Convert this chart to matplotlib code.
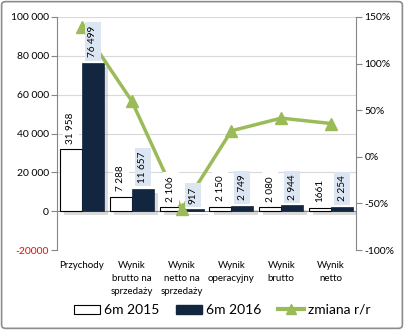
import numpy as np
import matplotlib.pyplot as plt
import matplotlib.patheffects as pe
from matplotlib.patches import FancyBboxPatch

plt.rcParams['font.family'] = ['Lato', 'DejaVu Sans']

# dane
kategorie = ['Przychody', 'Wynik\nbrutto na\nsprzedaży', 'Wynik\nnetto na\nsprzedaży',
             'Wynik\noperacyjny', 'Wynik\nbrutto', 'Wynik\nnetto']
v2015 = [31958, 7288, 2106, 2150, 2080, 1661]
v2016 = [76499, 11657, 917, 2749, 2944, 2254]
zmiana = [139.4, 59.9, -56.5, 27.9, 41.5, 35.7]
etyk2015 = ['31 958', '7 288', '2 106', '2 150', '2 080', '1661']
etyk2016 = ['76 499', '11 657', '917', '2 749', '2 944', '2 254']
yticks = [-20000, 0, 20000, 40000, 60000, 80000, 100000]
yticklabels = ['-20000', '0', '20 000', '40 000', '60 000', '80 000', '100 000']
pticks = [-100, -50, 0, 50, 100, 150]

navy = '#12263f'
green = '#9bbb59'
grid = '#d9d9d9'
axc = '#868686'

fig = plt.figure(figsize=(4.04, 3.30), dpi=100)
ax = fig.add_axes([57/404, 1-250/330, 299/404, 233/330])
ax2 = ax.twinx()

x = np.arange(len(kategorie))
w = 0.44
shadow = [pe.SimplePatchShadow(offset=(3, -3), shadow_rgbFace='#888888', alpha=0.3), pe.Normal()]
ax.bar(x - w/2, v2015, w, color='white', edgecolor='black', linewidth=0.8,
       path_effects=shadow, zorder=3)
ax.bar(x + w/2, v2016, w, color=navy, edgecolor=navy, linewidth=0.5,
       path_effects=shadow, zorder=3)

ax2.plot(x, zmiana, color=green, lw=2.5, marker='^', markersize=8, zorder=4, clip_on=False)

# etykiety nad linia
for xi, v, t in zip(x, v2015, etyk2015):
    ax2.annotate(t, (xi - w/2, v), xycoords=ax.transData, xytext=(0, 4), textcoords='offset points',
                 rotation=90, ha='center', va='bottom', fontsize=7.2, zorder=5,
                 bbox=dict(boxstyle='square,pad=0.35', fc='white', ec='none'))
for xi, v, t in zip(x, v2016, etyk2016):
    ax2.annotate(t, (xi + w/2, v), xycoords=ax.transData, xytext=(0, 4), textcoords='offset points',
                 rotation=90, ha='center', va='bottom', fontsize=7.2, zorder=5,
                 bbox=dict(boxstyle='square,pad=0.35', fc='#dce6f2', ec='none'))

ax.set_xlim(-0.5, len(kategorie) - 0.5)
ax.set_ylim(-20000, 100000)
ax.set_yticks(yticks)
ax.set_yticklabels(yticklabels, fontsize=7.5)
ax.get_yticklabels()[0].set_color('#ff0000')
for yv in yticks[2:]:
    ax.axhline(yv, color=grid, lw=0.8, zorder=0)
ax.axhline(0, color=axc, lw=0.8, zorder=2)
ax.set_xticks(x)
ax.set_xticklabels(kategorie, fontsize=7, linespacing=1.55, va='top')
ax.tick_params(axis='x', length=0, pad=8)
ax.tick_params(axis='y', length=4, color=axc, pad=2)
for s in ['top', 'right', 'bottom']:
    ax.spines[s].set_visible(False)
ax.spines['left'].set_color(axc)

ax2.set_ylim(-100, 150)
ax2.set_yticks(pticks)
ax2.set_yticklabels([f'{p}%' for p in pticks], fontsize=7.5)
ax2.tick_params(axis='y', length=4, color=axc, pad=2)
for s in ['top', 'left', 'bottom']:
    ax2.spines[s].set_visible(False)
ax2.spines['right'].set_color(axc)
ax.set_zorder(1)
ax2.set_zorder(2)
ax.patch.set_visible(False)

# legenda
h1 = plt.Rectangle((0, 0), 1, 1, fc='white', ec='black', lw=0.8)
h2 = plt.Rectangle((0, 0), 1, 1, fc=navy, ec=navy)
h3 = plt.Line2D([], [], color=green, lw=3, marker='^', markersize=7)
fig.legend([h1, h2, h3], ['6m 2015', '6m 2016', 'zmiana r/r'], loc='center',
           bbox_to_anchor=(222/404, 1-310/330), ncol=3, frameon=False, fontsize=10,
           handlelength=1.9, handleheight=0.6, handletextpad=0.25, columnspacing=1.2)

fig.patches.append(FancyBboxPatch((0.004, 0.005), 0.992, 0.99, boxstyle='round,pad=0,rounding_size=0.01',
                                  transform=fig.transFigure, fc='none', ec='#8c8c8c', lw=1.2))
fig.savefig('out.png', dpi=100)
